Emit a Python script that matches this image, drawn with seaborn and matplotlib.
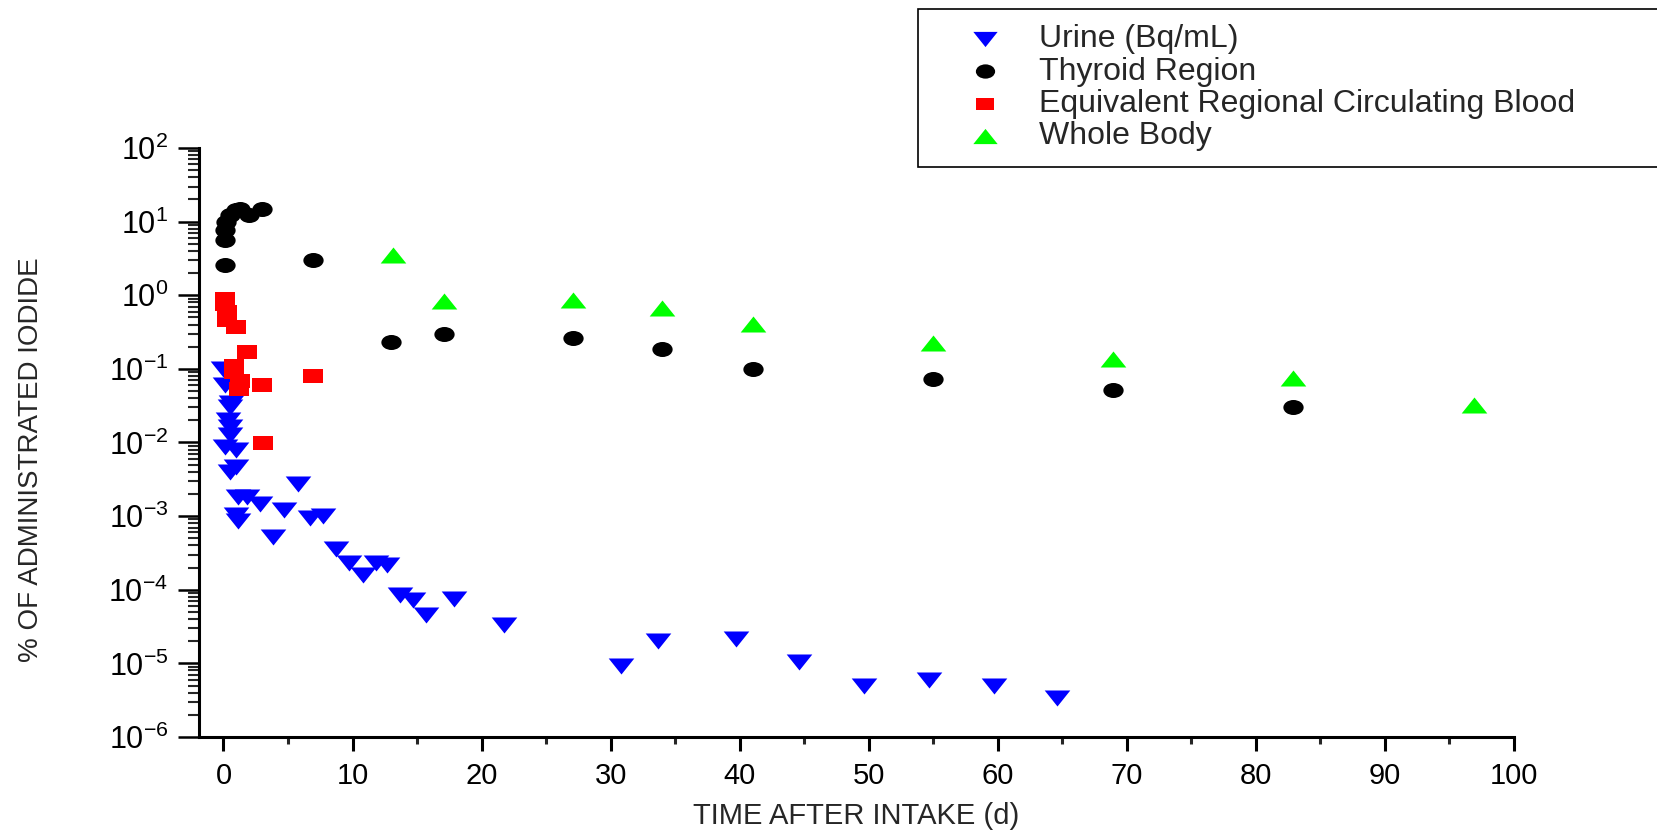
import matplotlib
matplotlib.use("Agg")
import matplotlib.pyplot as plt
import seaborn as sns
import pandas as pd
import numpy as np
from matplotlib.markers import MarkerStyle
from matplotlib.transforms import Affine2D
from matplotlib.ticker import LogLocator, MultipleLocator, FixedLocator

# ---- data ----
urine_t = [0.0, 0.1, 0.6, 0.5, 0.35, 0.5, 0.5, 0.1, 1.0, 1.0, 0.5, 5.8, 1.1, 1.8, 2.8, 4.7,
           1.0, 1.1, 6.7, 7.7, 3.8, 8.7, 9.7, 10.8, 11.8, 12.7, 13.7, 14.7, 15.7, 17.9,
           21.7, 30.8, 33.7, 39.7, 44.6, 49.6, 54.7, 59.7, 64.6]
urine_v = [0.1, 0.061, 0.034, 0.03, 0.02, 0.016, 0.0125, 0.0087, 0.0079, 0.0047, 0.004,
           0.0027, 0.0018, 0.0018, 0.00145, 0.0012, 0.00105, 0.00085, 0.00095, 0.001,
           0.00052, 3.6e-4, 2.3e-4, 1.6e-4, 2.3e-4, 2.2e-4, 8.4e-5, 7.3e-5, 4.5e-5, 7.5e-5,
           3.3e-5, 9.3e-6, 2.0e-5, 2.15e-5, 1.05e-5, 4.9e-6, 6.0e-6, 5.0e-6, 3.4e-6]

thyroid_t = [0.1, 0.15, 0.1, 0.2, 0.5, 1.0, 1.3, 2.0, 3.0, 6.9, 13.0, 17.1, 27.1, 34.0,
             41.0, 55.0, 68.9, 82.9]
thyroid_v = [2.6, 5.7, 7.7, 10.0, 12.3, 14.4, 14.8, 12.3, 14.8, 3.0, 0.23, 0.30, 0.26,
             0.185, 0.10, 0.073, 0.051, 0.030]

blood_t = [0.1, 0.15, 0.25, 0.25, 0.95, 1.85, 0.8, 0.85, 1.25, 1.2, 2.95, 6.9, 3.05]
blood_v = [0.90, 0.77, 0.59, 0.46, 0.37, 0.17, 0.11, 0.09, 0.069, 0.053, 0.061, 0.081, 0.0098]

body_t = [13.1, 17.1, 27.1, 34.0, 41.0, 55.0, 68.9, 82.9, 96.9]
body_v = [3.5, 0.84, 0.85, 0.67, 0.41, 0.225, 0.137, 0.076, 0.032]

series_labels = ["Urine (Bq/mL)", "Thyroid Region",
                 "Equivalent Regional Circulating Blood", "Whole Body"]
x_ticks = [0, 10, 20, 30, 40, 50, 60, 70, 80, 90, 100]

# ---- style ----
sns.set_style("ticks")
plt.rcParams["font.family"] = ["Liberation Sans", "DejaVu Sans"]
plt.rcParams["mathtext.fontset"] = "custom"
plt.rcParams["mathtext.rm"] = "Liberation Sans"
plt.rcParams["axes.unicode_minus"] = False

fig = plt.figure(figsize=(16.58, 8.32), dpi=100)
ax = fig.add_axes([0.1200, 0.1142, 0.7931, 0.7079])

def squashed(m, sx):
    return MarkerStyle(m, transform=Affine2D().scale(sx, 1.0))

specs = [
    (urine_t, urine_v, squashed("v", 1.6), 133, "#0000ff"),
    (thyroid_t, thyroid_v, squashed("o", 1.35), 117, "#000000"),
    (blood_t, blood_v, squashed("s", 1.45), 90, "#ff0000"),
    (body_t, body_v, squashed("^", 1.6), 133, "#00ff00"),
]
for (t, v, mk, s, c), lab in zip(specs, series_labels):
    df = pd.DataFrame({"t": t, "v": v})
    sns.scatterplot(data=df, x="t", y="v", marker=mk, s=s, color=c,
                    edgecolor=c, linewidth=0, label=lab, ax=ax, zorder=3)

ax.set_yscale("log")
ax.set_xlim(-1.9, 100)
ax.set_ylim(1e-6, 1e2)

ax.xaxis.set_major_locator(FixedLocator(x_ticks))
ax.xaxis.set_minor_locator(MultipleLocator(5))
ax.yaxis.set_major_locator(LogLocator(base=10, numticks=20))
ax.yaxis.set_minor_locator(LogLocator(base=10, subs=np.arange(2, 10), numticks=20))

for side in ["top", "right"]:
    ax.spines[side].set_visible(False)
for side in ["left", "bottom"]:
    ax.spines[side].set_linewidth(2.2)
    ax.spines[side].set_color("black")

ax.tick_params(axis="y", which="major", direction="out", length=15, width=1.8,
               labelsize=22, pad=7, colors="black")
ax.tick_params(axis="y", which="minor", direction="out", length=8, width=1.5)
ax.tick_params(axis="x", which="major", direction="out", length=10, width=2.2,
               labelsize=21, pad=8, colors="black")
ax.tick_params(axis="x", which="minor", direction="out", length=5, width=2.2)

ax.set_xlabel("TIME AFTER INTAKE (d)", fontsize=21, labelpad=9)
ax.set_ylabel("% OF ADMINISTRATED IODIDE", fontsize=20)
ax.yaxis.set_label_coords(-0.118, 0.47)
ax.grid(False)

handles, labels = ax.get_legend_handles_labels()
ax.get_legend().remove()
leg = fig.legend(handles, labels, loc="upper left",
                 bbox_to_anchor=(918 / 1658, 1 - 162 / 832, 745 / 1658, 153.5 / 832),
                 mode="expand", frameon=True, fancybox=False, framealpha=1,
                 edgecolor="black", fontsize=23, borderaxespad=0, borderpad=0.5,
                 handlelength=3.2, handletextpad=0.1, labelspacing=0.07,
                 markerscale=0.95)
leg.get_frame().set_linewidth(1.2)

fig.savefig("out.png", dpi=100, facecolor="white")
